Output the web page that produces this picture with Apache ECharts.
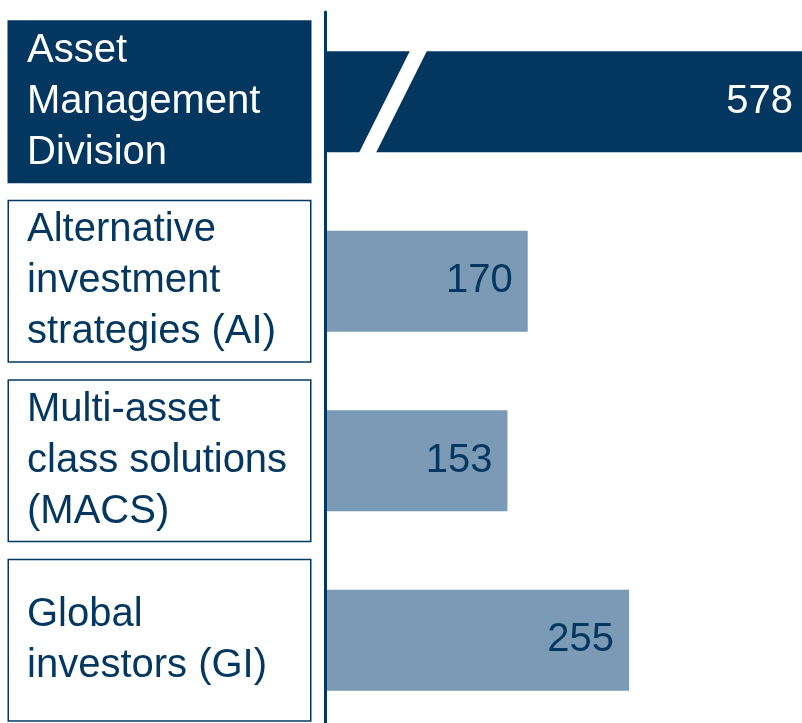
<!DOCTYPE html>
<html><head><meta charset="utf-8">
<script src="https://cdn.jsdelivr.net/npm/echarts@6/dist/echarts.min.js"></script>
<style>html,body{margin:0;padding:0;background:#fff}#c{width:802px;height:723px}</style>
</head><body><div id="c"></div>
<script>
const categories = ['Asset\nManagement\nDivision', 'Alternative\ninvestment\nstrategies (AI)', 'Multi-asset\nclass solutions\n(MACS)', 'Global\ninvestors (GI)'];
const values = [578, 170, 153, 255];
const axisMax = 400;

const NAVY = '#03375f';
const LIGHT = '#7a9ab5';
const FONT = '"Liberation Sans", Arial, Helvetica, sans-serif';

const chart = echarts.init(document.getElementById('c'), null, {renderer: 'canvas'});

const boxBase = {
  width: 283, height: 160, padding: [0, 0, 0, 18],
  borderWidth: 1.5, borderColor: NAVY, lineHeight: 51,
  fontSize: 40, fontFamily: FONT, align: 'left', verticalAlign: 'middle'
};

const yData = categories.map((c, i) => ({
  value: c,
  textStyle: Object.assign({}, boxBase,
    i === 0 ? {backgroundColor: NAVY, color: '#ffffff'} : {backgroundColor: '#ffffff', color: NAVY},
    i === 3 ? {padding: [11, 0, 0, 18], height: 149} : {})
}));

const barData = values.map((v, i) => ({
  value: v,
  itemStyle: {color: i === 0 ? NAVY : LIGHT},
  label: {color: i === 0 ? '#ffffff' : NAVY, distance: i === 0 ? 9 : 15}
}));

chart.setOption({
  animation: false,
  grid: {left: 325, right: 0, top: 12, height: 718, outerBoundsMode: 'none', containLabel: false},
  xAxis: {type: 'value', min: 0, max: axisMax, show: false},
  yAxis: {
    type: 'category', inverse: true, data: yData, z: 5,
    axisLine: {show: true, lineStyle: {color: NAVY, width: 3}},
    axisTick: {show: false},
    axisLabel: {margin: 316, align: 'left', verticalAlign: 'middle'}
  },
  series: [{
    type: 'bar', data: barData, barWidth: 101, clip: true,
    label: {show: true, position: 'insideRight', fontSize: 40, fontFamily: FONT}
  }]
});

// white slanted break on the first (out-of-range) bar
const yc = chart.convertToPixel({yAxisIndex: 0}, 0);
chart.setOption({
  graphic: [{
    type: 'polygon', z: 100,
    shape: {points: [[411, yc - 53], [428, yc - 53], [375, yc + 53], [358, yc + 53]]},
    style: {fill: '#ffffff'}
  }]
});
</script>
</body></html>
